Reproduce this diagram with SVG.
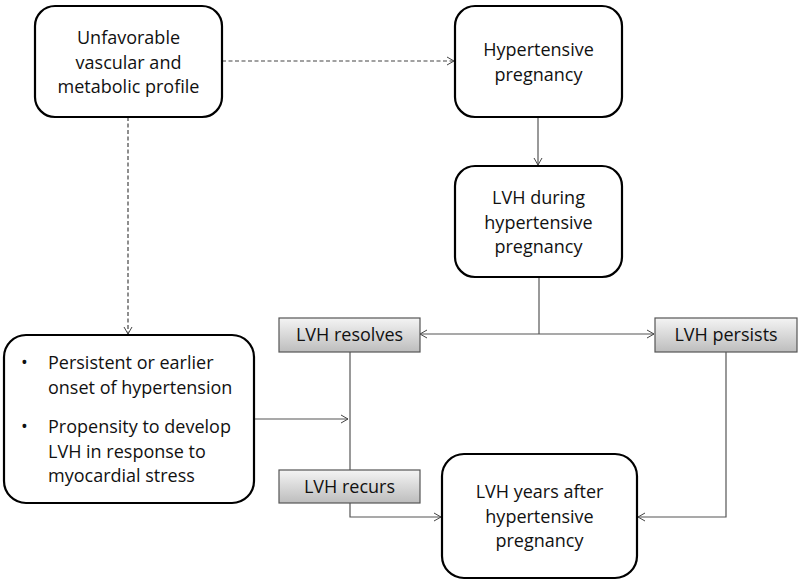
<svg xmlns="http://www.w3.org/2000/svg" width="800" height="584" viewBox="0 0 800 584">
<defs>
<linearGradient id="g" x1="0" y1="0" x2="0" y2="1">
<stop offset="0" stop-color="#f4f4f4"/>
<stop offset="1" stop-color="#bdbdbd"/>
</linearGradient>
<marker id="ah" markerWidth="10" markerHeight="10" refX="8" refY="5" orient="auto" markerUnits="userSpaceOnUse">
<path d="M1,1 L8,5 L1,9" fill="none" stroke="#444" stroke-width="1"/>
</marker>
<style>
.rb{fill:#fff;stroke:#000;stroke-width:2.2}
.sb{fill:url(#g);stroke:#555;stroke-width:1.2}
text{font-family:"Open Sans","Liberation Sans",sans-serif;font-size:18px;fill:#111}
.c{text-anchor:middle}
.ln{fill:none;stroke:#555;stroke-width:1.2}
.dl{fill:none;stroke:#444;stroke-width:1.2;stroke-dasharray:4,2.5}
</style>
</defs>
<rect width="800" height="584" fill="#fff"/>
<g id="connectors">
<path class="dl" d="M222,61 H454" marker-end="url(#ah)"/>
<path class="dl" d="M128,117 V334" marker-end="url(#ah)"/>
<path class="ln" d="M538,117 V165" marker-end="url(#ah)"/>
<path class="ln" d="M539,277 V334"/>
<path class="ln" d="M539,334 H420" marker-end="url(#ah)"/>
<path class="ln" d="M539,334 H654" marker-end="url(#ah)"/>
<path class="ln" d="M350,352 V470"/>
<path class="ln" d="M255,419 H348" marker-end="url(#ah)"/>
<path class="ln" d="M350,503 V517 H441" marker-end="url(#ah)"/>
<path class="ln" d="M726,352 V517 H638" marker-end="url(#ah)"/>
</g>
<g id="n1">
<rect class="rb" x="35" y="6" width="187" height="111" rx="20"/>
<text class="c" x="128.5" y="44">Unfavorable</text>
<text class="c" x="128.5" y="68.5">vascular and</text>
<text class="c" x="128.5" y="93">metabolic profile</text>
</g>
<g id="n2">
<rect class="rb" x="455" y="6" width="167" height="111" rx="20"/>
<text class="c" x="538.5" y="56">Hypertensive</text>
<text class="c" x="538.5" y="81">pregnancy</text>
</g>
<g id="n3">
<rect class="rb" x="455" y="166" width="167" height="111" rx="20"/>
<text class="c" x="538.5" y="204">LVH during</text>
<text class="c" x="538.5" y="229">hypertensive</text>
<text class="c" x="538.5" y="253">pregnancy</text>
</g>
<g id="n4">
<rect class="sb" x="279" y="318" width="141" height="34"/>
<text class="c" x="349.5" y="341">LVH resolves</text>
</g>
<g id="n5">
<rect class="sb" x="655" y="318" width="142" height="34"/>
<text class="c" x="726" y="341">LVH persists</text>
</g>
<g id="n6">
<rect class="rb" x="4" y="335" width="250" height="168" rx="22"/>
<text x="21" y="369">•</text>
<text x="48" y="369">Persistent or earlier</text>
<text x="48" y="394">onset of hypertension</text>
<text x="21" y="433">•</text>
<text x="48" y="433">Propensity to develop</text>
<text x="48" y="458">LVH in response to</text>
<text x="48" y="482">myocardial stress</text>
</g>
<g id="n7">
<rect class="sb" x="279" y="470" width="141" height="33"/>
<text class="c" x="349.5" y="493">LVH recurs</text>
</g>
<g id="n8">
<rect class="rb" x="442" y="454" width="195" height="124" rx="22"/>
<text class="c" x="539.5" y="498">LVH years after</text>
<text class="c" x="539.5" y="523">hypertensive</text>
<text class="c" x="539.5" y="547">pregnancy</text>
</g>
</svg>
